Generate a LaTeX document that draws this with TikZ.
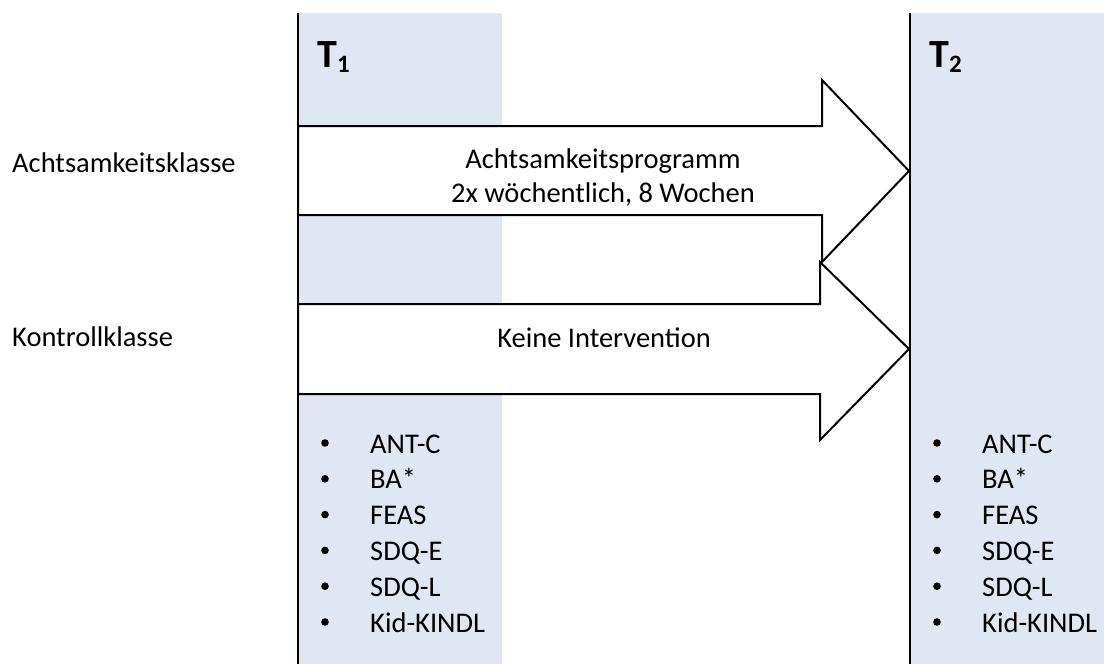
\documentclass[tikz,border=0pt]{standalone}
\usepackage{fontspec}
\setmainfont{Carlito}
\definecolor{panelblue}{RGB}{222,231,242}
\begin{document}
\begin{tikzpicture}[x=1pt,y=-1pt,
  lbl/.style={inner sep=0pt,anchor=base west,font=\fontsize{28.5}{28.5}\selectfont},
  ctr/.style={inner sep=0pt,anchor=base,font=\fontsize{28.5}{28.5}\selectfont},
  tlabel/.style={inner sep=0pt,anchor=base west,font=\fontsize{40}{40}\selectfont\bfseries},
  blockarrow/.style={draw=black,line width=2pt,fill=white,line join=miter},
  timeline/.style={draw=black,line width=2.2pt}]
\useasboundingbox (0,0) rectangle (1104,664);
% panels
\fill[panelblue] (298,13) rectangle (502,664);
\fill[panelblue] (910,13) rectangle (1104,664);
\coordinate (t1top) at (298,13);
\coordinate (t1bot) at (298,664);
\coordinate (t2top) at (910,13);
\coordinate (t2bot) at (910,664);
% arrows
\draw[blockarrow] (298,126) -- (822,126) -- (822,80) -- (909,171) -- (822,262) -- (822,215) -- (298,215) -- cycle;
\draw[blockarrow] (298,304) -- (820,304) -- (820,262) -- (909,349) -- (820,440) -- (820,394) -- (298,394) -- cycle;
\draw[timeline] (t1top) -- (t1bot);
\draw[timeline] (t2top) -- (t2bot);
% time labels
\node[tlabel] (T1) at (317,67) {T\raisebox{-5pt}{\fontsize{25}{25}\selectfont 1}};
\node[tlabel] (T2) at (929,67) {T\raisebox{-5pt}{\fontsize{25}{25}\selectfont 2}};
% group labels
\node[lbl] (ak) at (12,172) {Achtsamkeitsklasse};
\node[lbl] (kk) at (12,346) {Kontrollklasse};
% arrow texts
\node[ctr] (p1) at (603,168) {Achtsamkeitsprogramm};
\node[ctr] (p2) at (603,202) {2x wöchentlich, 8 Wochen};
\node[ctr] (p3) at (604,347) {Keine Intervention};
% measure lists
\foreach \i/\t in {0/ANT-C,1/BA*,2/FEAS,3/SDQ-E,4/SDQ-L,5/Kid-KINDL}{
  \node[lbl] (la\i) at (370,453+35.8*\i) {\t};
  \fill (325,443+35.8*\i) circle (3.8);
  \node[lbl] (lb\i) at (982,453+35.8*\i) {\t};
  \fill (937,443+35.8*\i) circle (3.8);
}
\end{tikzpicture}
\end{document}
